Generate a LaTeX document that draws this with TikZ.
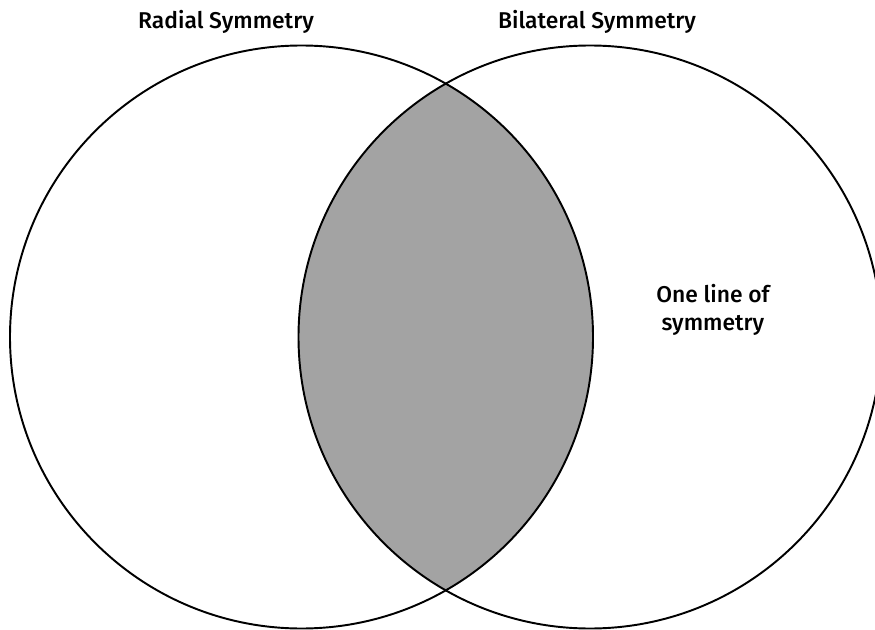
\documentclass[tikz,border=0pt]{standalone}
\usepackage{fontspec}
\setmainfont{Fira Sans}[UprightFont=* Medium]
\begin{document}
\begin{tikzpicture}[set/.style={draw, line width=1.1pt}, lens/.style={fill=black!36}, title/.style={font=\fontsize{13}{15.5}\selectfont, inner sep=0pt}]
        \clip (0,0) rectangle (17.5,12.58);
        \coordinate (radial) at (6.03,5.84);
        \coordinate (bilateral) at (11.8,5.84);
        \begin{scope}
            \clip (radial) circle (5.83);
            \fill[lens] (bilateral) circle (5.83);
        \end{scope}
        \draw[set] (radial) circle (5.83);
        \draw[set] (bilateral) circle (5.83);
        \node[title] (radialname) at (4.52,12.14) {Radial Symmetry};
        \node[title] (bilateralname) at (11.94,12.14) {Bilateral Symmetry};
        \node[title, align=center] (oneline) at (14.26,6.38) {One line of\\symmetry};% Label
    \end{tikzpicture}
\end{document}
